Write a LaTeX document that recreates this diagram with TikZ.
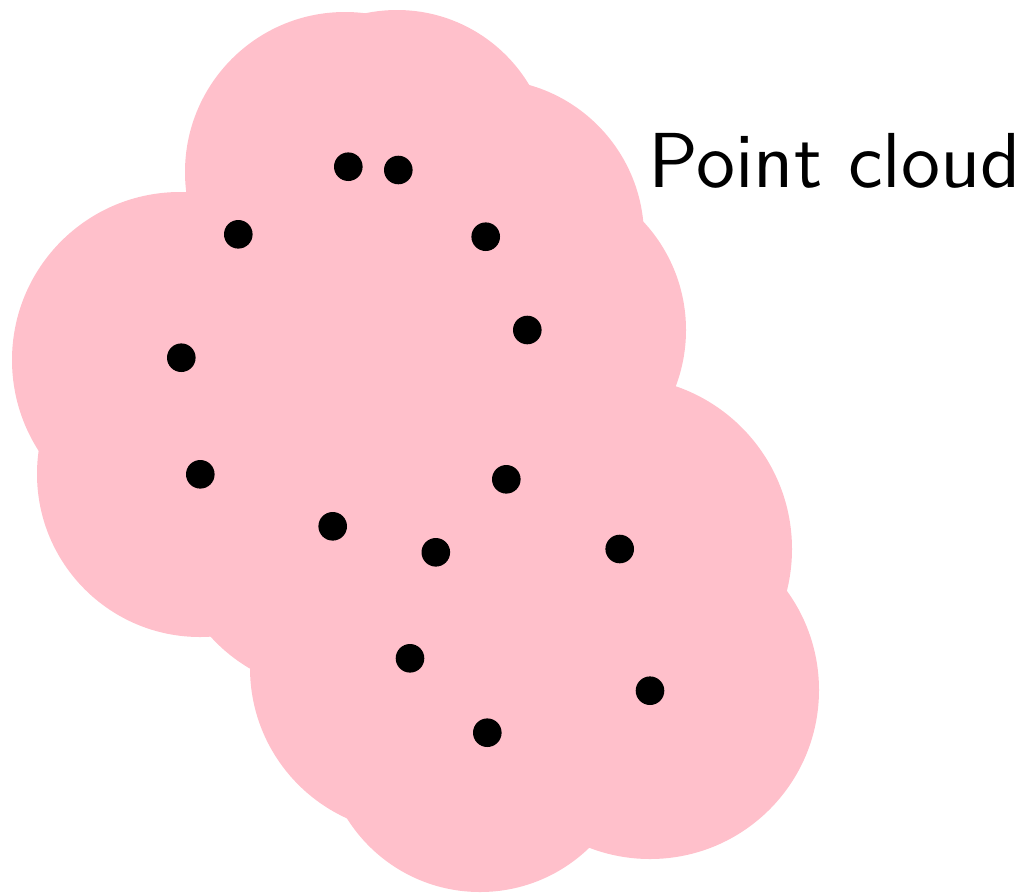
\documentclass[tikz,border=0pt]{standalone}
\definecolor{cloudpink}{RGB}{255,192,203}
\begin{document}
\begin{tikzpicture}[x=1pt,y=-1pt,
  blob/.style={fill=cloudpink,draw=none},
  pt/.style={circle,fill=black,inner sep=0pt,minimum size=28.6pt}]
\useasboundingbox (0,0) rectangle (1027,892);
% union of discs forming the cloud
\foreach \cx/\cy/\r in {345/172/160, 397/164/154, 486/237/158, 527/330/159,
  620/549/172, 650/690/169, 480/735/157, 415/668/165, 333/526/165,
  200/474/163, 180/360/168, 400/420/150}
  \fill[blob] (\cx,\cy) circle[radius=\r];
% points
\node[pt] (p1) at (348.3,166.7) {};
\node[pt] (p2) at (398.3,170) {};
\node[pt] (p3) at (238.3,234.3) {};
\node[pt] (p4) at (485.7,236.7) {};
\node[pt] (p5) at (527.3,330) {};
\node[pt] (p6) at (181.3,357.7) {};
\node[pt] (p7) at (200.3,474.3) {};
\node[pt] (p8) at (506.3,479.3) {};
\node[pt] (p9) at (332.7,526.3) {};
\node[pt] (p10) at (435.8,552.3) {};
\node[pt] (p11) at (619.7,549) {};
\node[pt] (p12) at (410,658.3) {};
\node[pt] (p13) at (650,690.7) {};
\node[pt] (p14) at (487.3,732.7) {};
\node[anchor=base west,inner sep=0pt,scale=7.8,font=\sffamily\fontsize{10}{12}\selectfont] (label) at (647,187) {Point cloud};
\end{tikzpicture}
\end{document}
